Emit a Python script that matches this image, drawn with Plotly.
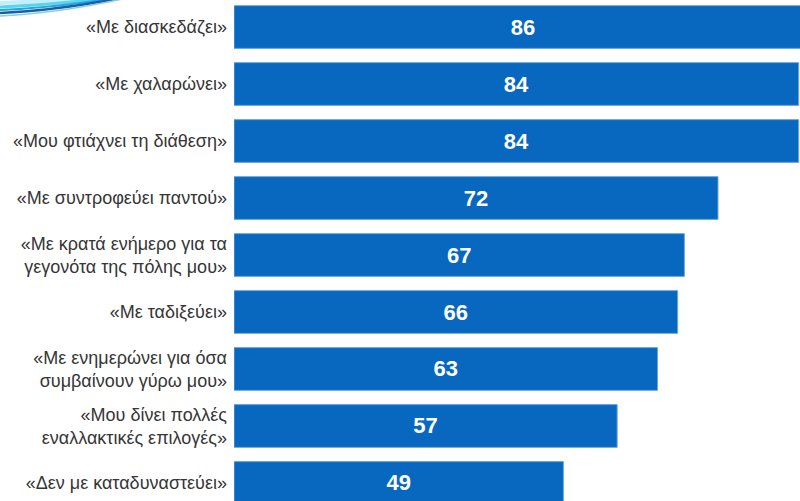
import plotly.graph_objects as go

# Survey statements (top to bottom) and share of respondents who agree (%)
statements = [
    "«Με διασκεδάζει»",
    "«Με χαλαρώνει»",
    "«Μου φτιάχνει τη διάθεση»",
    "«Με συντροφεύει παντού»",
    "«Με κρατά ενήμερο για τα<br>γεγονότα της πόλης μου»",
    "«Με ταδιξεύει»",
    "«Με ενημερώνει για όσα<br>συμβαίνουν γύρω μου»",
    "«Μου δίνει πολλές<br>εναλλακτικές επιλογές»",
    "«Δεν με καταδυναστεύει»",
]
agree_pct = [86, 84, 84, 72, 67, 66, 63, 57, 49]

W, H = 800, 501
BAR_BLUE = "#0867bf"

fig = go.Figure(
    go.Bar(
        x=agree_pct,
        y=statements,
        orientation="h",
        marker=dict(color=BAR_BLUE, line=dict(color="#6aa6dc", width=1)),
        text=[str(v) for v in agree_pct],
        textposition="inside",
        insidetextanchor="middle",
        textangle=0,
        textfont=dict(family="Liberation Sans, Arial, sans-serif", size=22, color="white", weight="bold"),
        constraintext="none",
        cliponaxis=True,
        hoverinfo="skip",
    )
)

# Decorative arcs in the top-left corner (pixel -> paper coordinates)
def px(x, y):
    return f"{x / W:.5f},{1 - y / H:.5f}"

arcs = [
    (3, "#c4eff8", 4),
    (7, "#5ad4ec", 3),
    (10, "#1ea9da", 2),
    (13, "#1b5ea6", 2.5),
    (16, "#86cbea", 1.5),
]
shapes = []
for y0, col, w in arcs:
    path = f"M {px(-2, y0)} Q {px(55, y0 - 2)} {px(100 + y0 * 2, -3)}"
    shapes.append(dict(type="path", xref="paper", yref="paper", path=path,
                       line=dict(color=col, width=w)))

fig.update_layout(
    width=W,
    height=H,
    margin=dict(l=0, r=0, t=0, b=0),
    paper_bgcolor="white",
    plot_bgcolor="white",
    showlegend=False,
    bargap=0.25,
    shapes=shapes,
    xaxis=dict(
        range=[0, 84.2],
        domain=[234 / W, 1],
        visible=False,
        fixedrange=True,
    ),
    yaxis=dict(
        type="category",
        categoryorder="array",
        categoryarray=statements,
        range=[8.316, -0.474],
        showgrid=False,
        zeroline=False,
        showline=False,
        ticks="",
        ticklabelstandoff=6,
        tickfont=dict(family="Liberation Sans, Arial, sans-serif", size=18, color="#363636"),
        fixedrange=True,
    ),
    font=dict(family="Liberation Sans, Arial, sans-serif"),
)

fig.write_html("out.html")
